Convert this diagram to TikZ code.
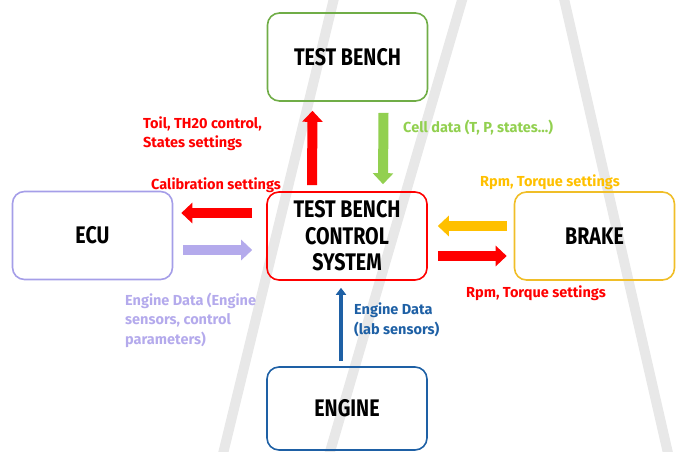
\documentclass[tikz,border=0pt]{standalone}
\usepackage{fontspec}
\usetikzlibrary{arrows.meta}
\newfontfamily\boxfont[FakeStretch=0.82]{Fira Sans}
\newfontfamily\labfont{Fira Sans}
\definecolor{cgreen}{RGB}{112,173,71}
\definecolor{cgreenl}{RGB}{146,208,80}
\definecolor{cred}{RGB}{255,0,0}
\definecolor{cyellow}{RGB}{240,190,40}
\definecolor{cyellowa}{RGB}{255,192,0}
\definecolor{cpurple}{RGB}{165,158,232}
\definecolor{cpurplel}{RGB}{180,170,236}
\definecolor{cblue}{RGB}{30,96,165}
\pgfdeclarelayer{bg}
\pgfsetlayers{bg,main}
\tikzset{
    block/.style={rectangle, rounded corners=12pt, draw, line width=1.6pt, minimum width=160pt, minimum height=88pt, align=center, font=\boxfont\bfseries\fontsize{24}{26.5}\selectfont},
    note/.style={anchor=west, align=left, inner sep=0pt, font=\labfont\bfseries\fontsize{14.5}{19.5}\selectfont}
}
\tikzset{
    fat/.style={line width=10pt, -{Triangle[length=11pt, width=20pt]}},
    thin/.style={line width=4pt, -{Triangle[length=7pt, width=10pt]}},
    wmark/.style={line width=10pt, gray!18}
}

\begin{document}
\begin{tikzpicture}[x=1pt, y=-1pt]
    \useasboundingbox (0,0) rectangle (678,452);

    \node (bench) [block, draw=cgreen] at (347.5, 57) {TEST BENCH};
    \node (tbcs) [block, draw=cred] at (347, 236) {TEST BENCH\\CONTROL\\SYSTEM};
    \node (ecu) [block, draw=cpurple] at (92.5, 235.5) {ECU};
    \node (brake) [block, draw=cyellow] at (594.5, 236) {BRAKE};
    \node (engine) [block, draw=cblue, minimum height=83pt] at (347, 408.5) {ENGINE};

    \node (toil) [note, text=cred] at (143, 133.5) {Toil, TH20 control,\\States settings};
    \node (calib) [note, text=cred] at (151, 185) {Calibration settings};
    \node (cell) [note, text=cgreenl] at (403, 128) {Cell data (T, P, states...)};
    \node (rpmin) [note, text=cyellowa] at (480, 182) {Rpm, Torque settings};
    \node (rpmout) [note, text=cred] at (466, 293) {Rpm, Torque settings};
    \node (ecudata) [note, text=cpurplel] at (125, 320) {Engine Data (Engine\\sensors, control\\parameters)};
    \node (labdata) [note, text=cblue] at (354, 320) {Engine Data\\(lab sensors)};

    \draw [fat, cred] ([xshift=-35pt, yshift=6pt]tbcs.north) -- ([xshift=-35pt, yshift=-9pt]bench.south);
    \draw [fat, cgreenl] ([xshift=36pt, yshift=-11pt]bench.south) -- ([xshift=36pt, yshift=7pt]tbcs.north);
    \draw [fat, cred] ([xshift=-14pt, yshift=23pt]tbcs.west) -- ([xshift=8pt, yshift=22.5pt]ecu.east);
    \draw [fat, cpurplel] ([xshift=10pt, yshift=-14.5pt]ecu.east) -- ([xshift=-14pt, yshift=-14pt]tbcs.west);
    \draw [fat, cyellowa] ([xshift=-7pt, yshift=10pt]brake.west) -- ([xshift=10pt, yshift=10pt]tbcs.east);
    \draw [fat, cred] ([xshift=10pt, yshift=-20pt]tbcs.east) -- ([xshift=-7pt, yshift=-20pt]brake.west);
    \draw [thin, cblue] ([xshift=-6pt, yshift=5pt]engine.north) -- ([xshift=-6pt, yshift=-7pt]tbcs.south);

    \begin{pgfonlayer}{bg}
        \draw [wmark] (336, -10) -- (221, 462);
        \draw [wmark] (465, -10) -- (327, 462);
        \draw [wmark] (562, -10) -- (670, 462);
    \end{pgfonlayer}
\end{tikzpicture}
\end{document}
